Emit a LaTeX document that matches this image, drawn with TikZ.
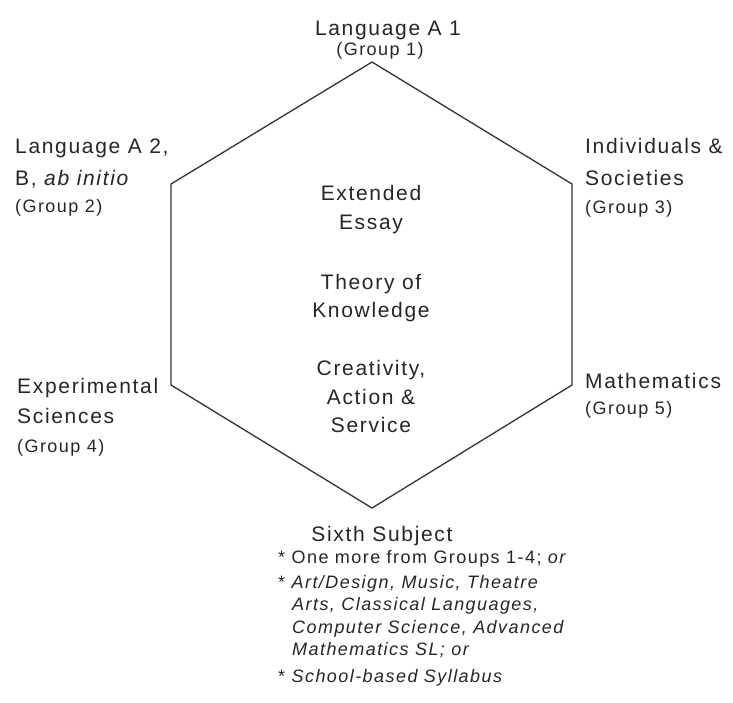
\documentclass[tikz,border=0pt]{standalone}
\usepackage{fontspec}
\setmainfont{Liberation Sans}[LetterSpace=8]
\begin{document}
\begin{tikzpicture}[x=1pt,y=-1pt,
  lbl/.style={inner sep=0pt, anchor=base west, font=\fontsize{21}{25}\selectfont, text=black!85},
  clbl/.style={lbl, anchor=base},
  grp/.style={inner sep=0pt, anchor=base west, font=\fontsize{18}{22}\selectfont, text=black!85},
  cgrp/.style={grp, anchor=base},
  lst/.style={inner sep=0pt, anchor=base west, font=\fontsize{18}{22}\selectfont, text=black!85},
  hex/.style={draw=black!80, line width=1.3pt, line join=miter}]
\useasboundingbox (0,0) rectangle (733,702);
\fill[white] (0,0) rectangle (733,702);
% hexagon
\coordinate (T) at (372,62);
\coordinate (UR) at (572,184);
\coordinate (LR) at (572,385);
\coordinate (B) at (372,508);
\coordinate (LL) at (171,385);
\coordinate (UL) at (171,184);
\draw[hex] (T) -- (UR) -- (LR) -- (B) -- (LL) -- (UL) -- cycle;
% top
\node[clbl] (la1) at (388,35) {Language A 1};
\node[cgrp] (g1) at (380,55) {(Group 1)};
% upper left
\node[lbl] (la2) at (15,153) {Language A 2,};
\node[lbl] (abi) at (15,185) {B, \textit{ab initio}};
\node[grp] (g2) at (15,212) {(Group 2)};
% upper right
\node[lbl] (ind) at (585,153) {Individuals \&};
\node[lbl] (soc) at (585,185) {Societies};
\node[grp] (g3) at (585,213) {(Group 3)};
% centre
\node[clbl] (ext) at (371,200) {Extended};
\node[clbl] (ess) at (371,229) {Essay};
\node[clbl] (tho) at (371,289) {Theory of};
\node[clbl] (kno) at (371,317) {Knowledge};
\node[clbl] (cre) at (371,375) {Creativity,};
\node[clbl] (act) at (371,404) {Action \&};
\node[clbl] (ser) at (371,432) {Service};
% lower left
\node[lbl] (exp) at (17,393) {Experimental};
\node[lbl] (sci) at (17,423) {Sciences};
\node[grp] (g4) at (17,452) {(Group 4)};
% lower right
\node[lbl] (mat) at (585,388) {Mathematics};
\node[grp] (g5) at (585,414) {(Group 5)};
% bottom
\node[clbl] (six) at (382,541) {Sixth Subject};
\node[lst] (l1) at (278,563) {* One more from Groups 1-4; \textit{or}};
\node[lst] (l2) at (278,588) {* \textit{Art/Design, Music, Theatre}};
\node[lst] (l3) at (292,610) {\textit{Arts, Classical Languages,}};
\node[lst] (l4) at (292,633) {\textit{Computer Science, Advanced}};
\node[lst] (l5) at (292,655) {\textit{Mathematics SL; or}};
\node[lst] (l6) at (278,682) {* \textit{School-based Syllabus}};
\end{tikzpicture}
\end{document}
